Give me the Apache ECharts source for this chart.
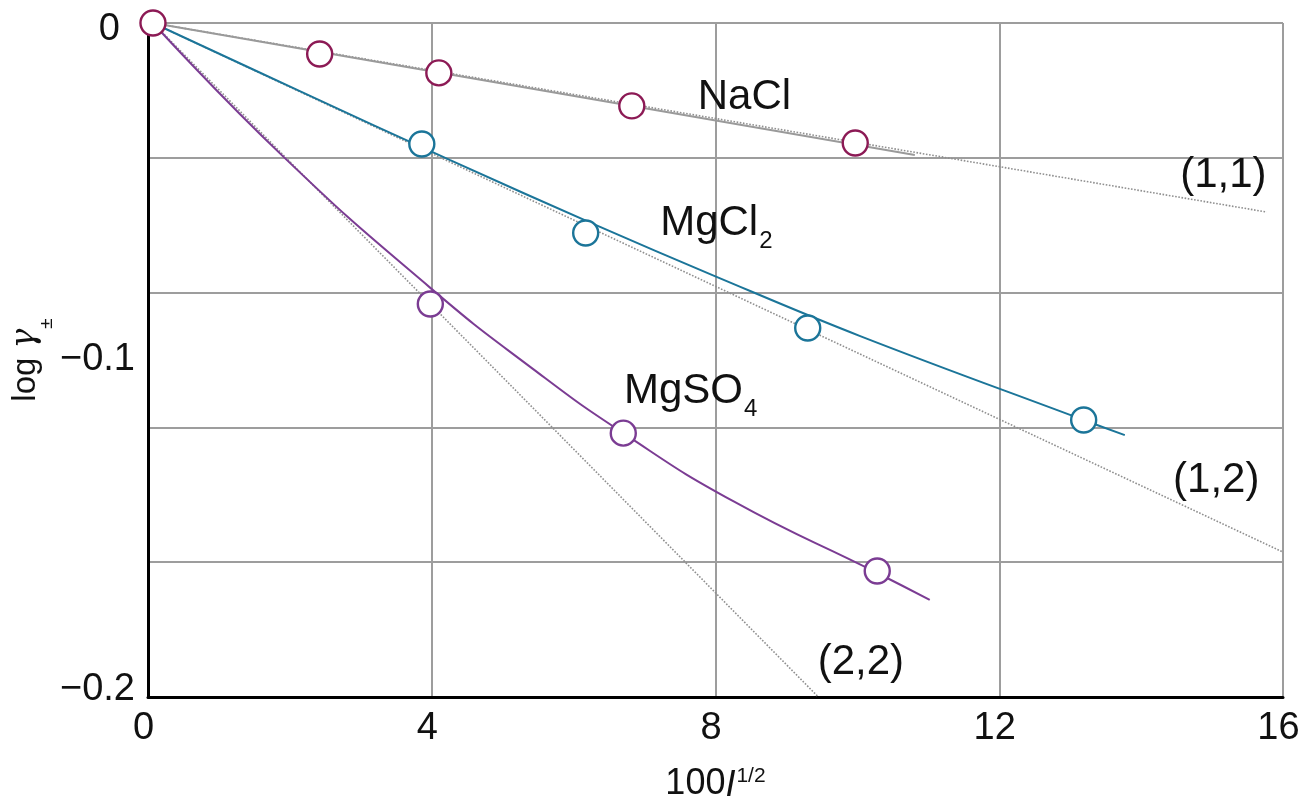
<!DOCTYPE html>
<html>
<head>
<meta charset="utf-8">
<script src="https://cdn.jsdelivr.net/npm/echarts@6/dist/echarts.min.js"></script>
<style>
html,body{margin:0;padding:0;background:#fff;}
#chart{width:1303px;height:805px;}
</style>
</head>
<body>
<div id="chart"></div>
<script>
// ---- data ----
const xTicks = [0, 4, 8, 12, 16];
const yTickLabels = [0, -0.1, -0.2];

// measured points [100 I^1/2, log gamma]
const naclPoints  = [[0.07, 0], [2.42, -0.0092], [4.10, -0.0148], [6.82, -0.0246], [9.97, -0.0356]];
const mgcl2Points = [[3.86, -0.0359], [6.17, -0.0623], [9.30, -0.0905], [13.19, -0.1178]];
const mgso4Points = [[3.98, -0.0834], [6.70, -0.1217], [10.28, -0.1626]];

// fitted curves
const naclCurve  = [[0.07, 0], [10.81, -0.0392]];
const mgcl2Curve = [[0.07, 0], [2.14, -0.0202], [4.26, -0.0407], [6.34, -0.0602], [7.99, -0.0751], [10.04, -0.0929], [13.19, -0.1178], [13.77, -0.1223]];
const mgso4Curve = [[0.07, 0], [1.90, -0.0395], [3.98, -0.0786], [5.43, -0.1027], [6.70, -0.1217], [8.25, -0.1419], [10.28, -0.1632], [11.02, -0.1712]];

// Debye-Hueckel limiting lines
const limit11 = [[0.07, 0], [15.77, -0.0561]];
const limit12 = [[0.07, 0], [16.0, -0.1570]];
const limit22 = [[0.07, 0], [9.45, -0.2]];

// text annotations [x, y, text]
const annotations = [
  [7.75, -0.0159, '{m|NaCl}'],
  [7.22, -0.0533, '{m|MgCl}{s|2}'],
  [6.71, -0.1032, '{m|MgSO}{s|4}'],
  [14.55, -0.0391, '{m|(1,1)}'],
  [14.45, -0.1296, '{m|(1,2)}'],
  [9.44, -0.1836, '{m|(2,2)}']
];

// ---- styling ----
const FONT = "'Liberation Sans', Arial, sans-serif";
const C_NACL = '#8c1a55';
const C_MGCL = '#1b7599';
const C_MGSO = '#7b3c93';
const GRID = '#9d9d9d';
const DOT = '#8f8f8f';
const INK = '#111';

const chart = echarts.init(document.getElementById('chart'), null, {renderer: 'canvas'});

function limitLine(data) {
  return {type: 'line', data: data, symbol: 'none', silent: true, z: 2,
    lineStyle: {color: DOT, width: 1.6, type: 'dotted'}};
}
function curve(data, color, smooth) {
  return {type: 'line', data: data, symbol: 'none', smooth: smooth, silent: true, z: 3,
    lineStyle: {color: color, width: 2}};
}
function points(data, color, z) {
  return {type: 'scatter', data: data, symbol: 'circle', symbolSize: 25, z: z, silent: true,
    itemStyle: {color: '#fff', borderColor: color, borderWidth: 2.4, opacity: 1}};
}

const richText = {
  m: {fontSize: 42, lineHeight: 42, verticalAlign: 'top', fontFamily: FONT, color: INK},
  s: {fontSize: 24, lineHeight: 51, verticalAlign: 'bottom', fontFamily: FONT, color: INK, padding: [0, 0, 0, 1]}
};

const option = {
  animation: false,
  backgroundColor: '#fff',
  grid: {left: 148, right: 20, top: 23, bottom: 108, containLabel: false, outerBoundsMode: 'none'},
  xAxis: {
    type: 'value', min: xTicks[0], max: xTicks[xTicks.length - 1], interval: 4,
    axisLine: {show: true, onZero: false, lineStyle: {color: '#000', width: 3}},
    axisTick: {show: false},
    splitLine: {show: true, lineStyle: {color: GRID, width: 2}},
    axisLabel: {fontSize: 38, fontFamily: FONT, color: INK, margin: 13, padding: [0, 9, 0, 0]},
    name: '100{i|I}{sup|1/2}', nameLocation: 'middle', nameGap: 67,
    nameTextStyle: {
      fontSize: 36, fontFamily: FONT, color: INK,
      rich: {
        i: {fontSize: 36, fontStyle: 'italic', fontFamily: FONT, color: INK, lineHeight: 40, verticalAlign: 'bottom'},
        sup: {fontSize: 21, fontFamily: FONT, color: INK, lineHeight: 22, verticalAlign: 'top', padding: [2, 0, 0, 1]}
      },
      lineHeight: 40, verticalAlign: 'top'
    }
  },
  yAxis: [
    {
      type: 'value', min: -0.2, max: 0, interval: 0.04,
      axisLine: {show: true, onZero: false, lineStyle: {color: '#000', width: 3}},
      axisTick: {show: false},
      axisLabel: {show: false},
      splitLine: {show: true, lineStyle: {color: GRID, width: 2}},
      name: '{t|log }{g|γ}{s|±}', nameLocation: 'middle', nameGap: 92, nameRotate: 90,
      nameTextStyle: {
        fontSize: 33, fontFamily: FONT, color: INK,
        rich: {
          t: {fontSize: 33, fontFamily: FONT, color: INK, lineHeight: 34, verticalAlign: 'top'},
          g: {fontSize: 33, fontStyle: 'italic', fontFamily: 'DejaVu Serif, serif', color: INK, lineHeight: 34, verticalAlign: 'top'},
          s: {fontSize: 19, fontFamily: FONT, color: INK, lineHeight: 47, verticalAlign: 'bottom'}
        }
      }
    },
    {
      type: 'value', min: -0.2, max: 0, interval: 0.1, position: 'left',
      axisLine: {show: false}, axisTick: {show: false}, splitLine: {show: false},
      axisLabel: {
        fontSize: 38, fontFamily: FONT, color: INK, margin: 13,
        formatter: function (v) {
          const hit = yTickLabels.find(t => Math.abs(t - v) < 1e-9);
          if (hit === undefined) return '';
          if (hit === 0) return '{sp| }{z|0}';
          if (Math.abs(hit + 0.2) < 1e-9) return '{sp2| }{w|\u2212' + Math.abs(hit).toFixed(1) + '}';
          return '\u2212' + Math.abs(hit).toFixed(1);
        },
        rich: {
          sp: {fontSize: 1, lineHeight: 52},
          z: {fontSize: 38, fontFamily: FONT, color: INK, lineHeight: 40, verticalAlign: 'bottom', padding: [0, 15, 0, 0]},
          sp2: {fontSize: 1, lineHeight: 52},
          w: {fontSize: 38, fontFamily: FONT, color: INK, lineHeight: 40, verticalAlign: 'top'}
        }
      }
    }
  ],
  series: [
    limitLine(limit11),
    limitLine(limit12),
    limitLine(limit22),
    curve(naclCurve, '#9a9a9a', false),
    curve(mgcl2Curve, C_MGCL, 0.4),
    curve(mgso4Curve, C_MGSO, 0.5),
    points(mgso4Points, C_MGSO, 5),
    points(mgcl2Points, C_MGCL, 5),
    points(naclPoints, C_NACL, 6),
    {
      type: 'scatter', symbolSize: 0, silent: true, z: 7,
      itemStyle: {opacity: 1},
      data: annotations.map(a => ({value: [a[0], a[1]], label: {formatter: a[2]}})),
      label: {show: true, position: 'right', distance: 0, align: 'left', verticalAlign: 'top',
        color: INK, textBorderWidth: 0, rich: richText}
    }
  ]
};
chart.setOption(option);
</script>
</body>
</html>
